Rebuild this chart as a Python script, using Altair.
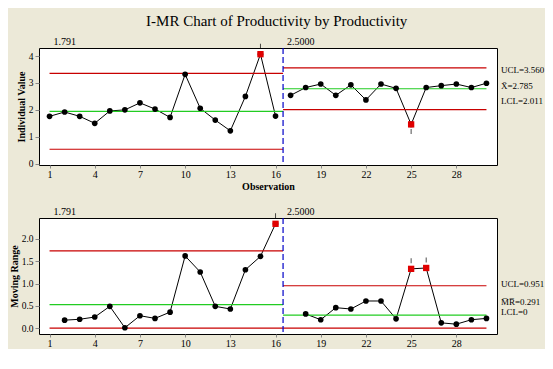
import altair as alt
import pandas as pd

# ---------------- data ----------------
obs = list(range(1, 31))
stage = [1] * 16 + [2] * 14
ind_values = [1.76, 1.92, 1.76, 1.50, 1.96, 2.00, 2.26, 2.03, 1.72, 3.32, 2.06, 1.62, 1.22, 2.50, 4.07, 1.77,
              2.54, 2.83, 2.96, 2.54, 2.93, 2.37, 2.96, 2.80, 1.46, 2.83, 2.90, 2.96, 2.83, 2.99]
mr_values = [None, 0.18, 0.20, 0.25, 0.49, 0.01, 0.28, 0.22, 0.36, 1.62, 1.26, 0.49, 0.43, 1.31, 1.61, 2.34,
             None, 0.32, 0.19, 0.46, 0.43, 0.61, 0.61, 0.21, 1.33, 1.35, 0.12, 0.09, 0.19, 0.22]

i_flag_high = [15]
i_flag_low = [25]
mr_flag_high = [16, 25, 26]

stage_start = [1, 16.5]
stage_end = [16.5, 30]
stage_labels = ["1.791", "2.5000"]
split_at = 16.5

i_ucl = [3.355, 3.560]
i_cl = [1.945, 2.785]
i_lcl = [0.535, 2.011]
mr_ucl = [1.732, 0.951]
mr_cl = [0.530, 0.291]
mr_lcl = [0.0, 0.0]

i_label_text = ["UCL=3.560", "X\u0304=2.785", "LCL=2.011"]
i_label_val = [3.560, 2.785, 2.011]
mr_label_text = ["UCL=0.951", "M\u0305R\u0305=0.291", "LCL=0"]
mr_label_val = [0.951, 0.291, 0.0]

x_ticks = [1, 4, 7, 10, 13, 16, 19, 22, 25, 28]
x_domain = [0.3, 30.7]

# ---------------- styling ----------------
FONT = "Liberation Serif"
RED = "#C80000"
GREEN = "#22CC22"
BLUE = "#0000C8"
W, H1, H2 = 458, 117, 116


def panel(values, flags_high, flags_low, ucl, cl, lcl, lab_text, lab_val, lab_dy,
          ytitle, ydomain, yticks, yfmt, xtitle, height):
    df = pd.DataFrame({"obs": obs, "v": values, "stage": stage}).dropna()
    lim = pd.DataFrame({"s": stage_start, "e": stage_end, "ucl": ucl, "cl": cl, "lcl": lcl,
                        "top": [ydomain[1]] * 2, "lab": stage_labels})

    xax = alt.Axis(values=x_ticks, title=xtitle, grid=False, tickSize=3, labelPadding=1,
                   titlePadding=2, titleFontWeight="bold", titleFontSize=10, titleFont=FONT,
                   labelFont=FONT, labelFontSize=10, domain=False, labelFlush=False,
                   labelOverlap=False)
    yax = alt.Axis(values=yticks, format=yfmt, title=ytitle, grid=False, tickSize=4,
                   labelPadding=2, titlePadding=2, titleFontWeight="bold", titleFontSize=10,
                   titleFont=FONT, labelFont=FONT, labelFontSize=9.5, domain=False,
                   labelOverlap=False, labelFlush=False)
    xs = alt.Scale(domain=x_domain, nice=False, zero=False)
    ys = alt.Scale(domain=ydomain, nice=False, zero=False)

    def X(f):
        return alt.X(f, scale=xs, axis=xax, title=xtitle)

    def Y(f):
        return alt.Y(f, scale=ys, axis=yax, title=ytitle)

    base = alt.Chart(df)
    line = base.mark_line(color="black", strokeWidth=1).encode(
        x=X("obs:Q"), y=Y("v:Q"), detail="stage:N")
    pts = base.mark_circle(size=32, color="black", opacity=1).encode(x=X("obs:Q"), y=Y("v:Q"))

    layers = []
    lb = alt.Chart(lim)
    for fld, col in (("ucl", RED), ("lcl", RED), ("cl", GREEN)):
        layers.append(lb.mark_rule(color=col, strokeWidth=1.2).encode(
            x=X("s:Q"), x2="e:Q", y=Y(f"{fld}:Q")))
    split = alt.Chart(pd.DataFrame({"x": [split_at]})).mark_rule(
        color=BLUE, strokeDash=[6, 3], strokeWidth=1.2).encode(x=X("x:Q"))
    stage_txt = lb.mark_text(align="left", baseline="bottom", dx=4, dy=-1, font=FONT,
                             fontSize=10, color="black").encode(
        x=X("s:Q"), y=Y("top:Q"), text="lab:N")

    bad = df[df["obs"].isin(flags_high + flags_low)]
    red_pts = alt.Chart(bad).mark_square(size=40, color="#E00000", opacity=1).encode(
        x=X("obs:Q"), y=Y("v:Q"))
    hi = df[df["obs"].isin(flags_high)]
    lo = df[df["obs"].isin(flags_low)]
    tick_hi = alt.Chart(hi).mark_tick(orient="vertical", size=5, thickness=1, color="black",
                                      yOffset=-8).encode(x=X("obs:Q"), y=Y("v:Q"))
    tick_lo = alt.Chart(lo).mark_tick(orient="vertical", size=5, thickness=1, color="black",
                                      yOffset=7).encode(x=X("obs:Q"), y=Y("v:Q"))

    labs = []
    for t, v, d in zip(lab_text, lab_val, lab_dy):
        labs.append(alt.Chart(pd.DataFrame({"x": [x_domain[1]], "y": [v], "t": [t]})).mark_text(
            align="left", baseline="middle", dx=4, dy=d, font=FONT, fontSize=9, color="black"
        ).encode(x=X("x:Q"), y=Y("y:Q"), text="t:N"))

    return alt.layer(line, *layers, split, pts, red_pts, tick_hi, tick_lo, stage_txt,
                     *labs).properties(width=W, height=height)


top = panel(ind_values, i_flag_high, i_flag_low, i_ucl, i_cl, i_lcl,
            i_label_text, i_label_val, [2, -3, -9],
            "Individual Value", [-0.05, 4.3], [0, 1, 2, 3, 4], "d", "Observation", H1)
bottom = panel(mr_values, mr_flag_high, [], mr_ucl, mr_cl, mr_lcl,
               mr_label_text, mr_label_val, [-2, -13, -16],
               "Moving Range", [-0.13, 2.47], [0, 0.5, 1.0, 1.5, 2.0], ".1f", None, H2)

chart = alt.vconcat(top, bottom, spacing=14).properties(
    title=alt.TitleParams("I-MR Chart of Productivity by Productivity", font=FONT,
                          fontSize=15, fontWeight="normal", anchor="middle", offset=8),
    background="#ECE9D8",
    padding={"left": 0, "top": 5, "right": 0, "bottom": 0},
).configure_view(fill="white", stroke="black", strokeWidth=1)

chart.save("out.html", embed_options={"renderer": "svg", "actions": False})
